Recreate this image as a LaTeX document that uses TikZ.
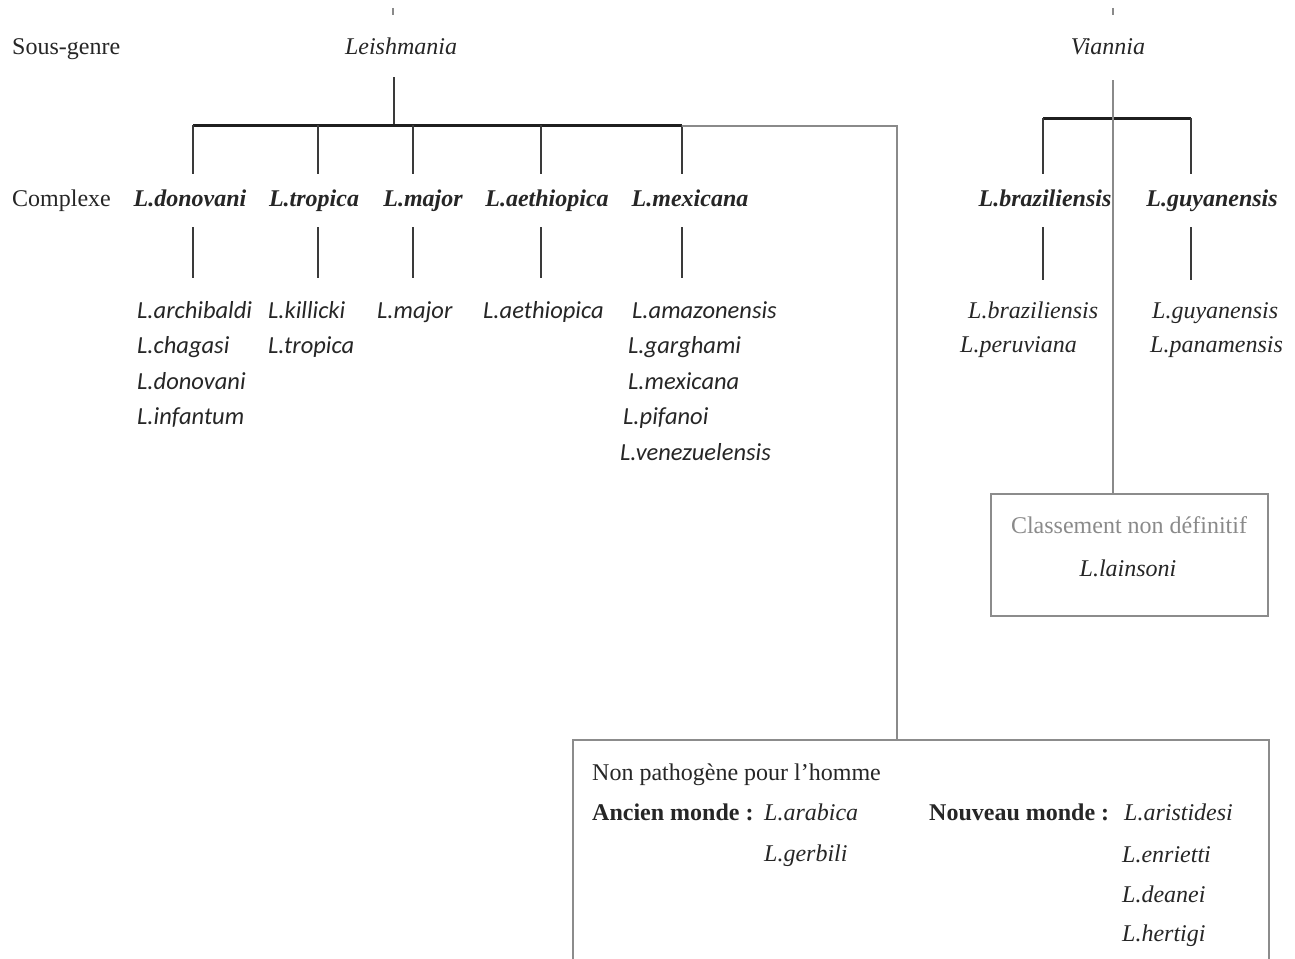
\documentclass[tikz,border=0pt]{standalone}
\usepackage{fontspec}
\setmainfont{Liberation Serif}
\newfontfamily\calfont{Carlito}
\newcommand\rmsz{\fontsize{24}{28}\selectfont}
\newcommand\calsz{\fontsize{24.5}{35.5}\selectfont}
\newcommand\vlsz{\fontsize{24}{34}\selectfont}
\definecolor{ink}{HTML}{262626}
\definecolor{barc}{HTML}{1F1F1F}
\definecolor{dropc}{HTML}{3A3A3A}
\definecolor{connc}{HTML}{8A8A8A}
\definecolor{boxc}{HTML}{8C8C8C}
\definecolor{greyt}{HTML}{8A8A8A}
\begin{document}
\begin{tikzpicture}[x=1pt,y=-1pt,
  lbl/.style={inner sep=0pt, anchor=base west, font=\rmsz, text=ink},
  sgn/.style={anchor=base, inner xsep=0pt, text height=17pt, text depth=6pt, font=\rmsz\itshape, text=ink},
  cx/.style={anchor=base, inner xsep=0pt, inner ysep=15pt, text height=17pt, text depth=6pt, font=\rmsz\bfseries\itshape, text=ink},
  lstc/.style={anchor=north west, inner xsep=0pt, inner ysep=21pt, align=left, font=\calsz\calfont\itshape, text=ink},
  lstt/.style={anchor=north west, inner xsep=0pt, inner ysep=20pt, align=left, font=\vlsz\itshape, text=ink},
  ital/.style={inner sep=0pt, anchor=base west, font=\rmsz\itshape, text=ink},
  bld/.style={inner sep=0pt, anchor=base west, font=\rmsz\bfseries, text=ink},
  bar/.style={draw=barc, line width=3pt},
  drop/.style={draw=dropc, line width=1.6pt},
  conn/.style={draw=connc, line width=1.6pt},
  box/.style={draw=boxc, line width=2pt, anchor=north west, inner sep=0pt}]
\useasboundingbox (0,0) rectangle (1295,958);
\fill[white] (0,0) rectangle (1295,958);

% marks at top
\coordinate (m1a) at (393,8); \coordinate (m1b) at (393,15);
\coordinate (m2a) at (1113,8); \coordinate (m2b) at (1113,15);
\draw[conn] (m1a) -- (m1b);
\draw[conn] (m2a) -- (m2b);

% row labels
\node[lbl] (sg) at (12,55) {Sous-genre};
\node[lbl] (cplx) at (12,206) {Complexe};

% sub-genera
\node[sgn, inner ysep=16pt] (leish) at (401,55) {Leishmania};
\node[sgn, inner ysep=19pt] (vian) at (1108,55) {Viannia};

% complexes
\node[cx] (don) at (190,206) {L.donovani};
\node[cx] (trop) at (314,206) {L.tropica};
\node[cx] (maj) at (423,206) {L.major};
\node[cx] (aeth) at (547,206) {L.aethiopica};
\node[cx] (mex) at (690,206) {L.mexicana};
\node[cx] (braz) at (1045,206) {L.braziliensis};
\node[cx] (guy) at (1212,206) {L.guyanensis};

% species lists
\node[lstc] (donL) at (137,278) {\rule{0pt}{19pt}L.archibaldi\\L.chagasi\\L.donovani\\L.infantum};
\node[lstc] (tropL) at (268,278) {\rule{0pt}{19pt}L.killicki\\L.tropica};
\node[lstc] (majL) at (377,278) {\rule{0pt}{19pt}L.major};
\node[lstc] (aethL) at (483,278) {\rule{0pt}{19pt}L.aethiopica};
\node[lstc] (mexL) at (620,278) {\rule{0pt}{19pt}\hspace*{12pt}L.amazonensis\\\hspace*{8pt}L.garghami\\\hspace*{8pt}L.mexicana\\\hspace*{3pt}L.pifanoi\\L.venezuelensis};
\node[lstt] (brazL) at (960,280) {\rule{0pt}{18pt}\hspace*{8pt}L.braziliensis\\L.peruviana};
\node[lstt] (guyL) at (1150,280) {\rule{0pt}{18pt}\hspace*{2pt}L.guyanensis\\L.panamensis};

% Leishmania tree
\coordinate (b0) at (394,125);
\coordinate (c1) at (193,125);
\coordinate (c2) at (318,125);
\coordinate (c3) at (413,125);
\coordinate (c4) at (541,125);
\coordinate (c5) at (682,125);
\coordinate (g0) at (682,126);
\coordinate (g1) at (897,126);
\draw[drop] (leish.south -| b0) -- (b0);
\draw[bar] (c1) -- (c5);
\draw[drop] (c1) -- (don.north -| c1);
\draw[drop] (c2) -- (trop.north -| c2);
\draw[drop] (c3) -- (maj.north -| c3);
\draw[drop] (c4) -- (aeth.north -| c4);
\draw[drop] (c5) -- (mex.north -| c5);
\draw[drop] (don.south -| c1) -- (donL.north -| c1);
\draw[drop] (trop.south -| c2) -- (tropL.north -| c2);
\draw[drop] (maj.south -| c3) -- (majL.north -| c3);
\draw[drop] (aeth.south -| c4) -- (aethL.north -| c4);
\draw[drop] (mex.south -| c5) -- (mexL.north -| c5);

% Viannia tree
\coordinate (vx) at (1113,80);
\coordinate (v1) at (1043,118);
\coordinate (v2) at (1191,118);
\draw[bar] (v1) -- (v2);
\draw[drop] (v1) -- (braz.north -| v1);
\draw[drop] (v2) -- (guy.north -| v2);
\draw[drop] (braz.south -| v1) -- (brazL.north -| v1);
\draw[drop] (guy.south -| v2) -- (guyL.north -| v2);

% Classement box
\node[box, minimum width=277pt, minimum height=122pt] (clbox) at (990,493) {};
\node[anchor=base, inner sep=0pt, font=\rmsz, text=greyt] (clt) at (1129,533) {Classement non définitif};
\node[anchor=base, inner sep=0pt, font=\rmsz\itshape, text=ink] (lain) at (1128,576) {L.lainsoni};
\draw[conn] (vian.south -| vx) -- (clbox.north -| vx);

% Non pathogene box
\node[box, minimum width=696pt, minimum height=290pt] (npbox) at (572,739) {};
\draw[conn] (g0) -- (g1) -- (npbox.north -| g1);
\node[lbl] (npt) at (592,780) {Non pathogène pour l’homme};
\node[bld] (am) at (592,820) {Ancien monde :};
\node[ital] (arab) at (764,820) {L.arabica};
\node[ital] (gerb) at (764,861) {L.gerbili};
\node[bld] (nm) at (929,820) {Nouveau monde :};
\node[ital] (aris) at (1124,820) {L.aristidesi};
\node[ital] (enri) at (1122,862) {L.enrietti};
\node[ital] (dean) at (1122,902) {L.deanei};
\node[ital] (hert) at (1122,941) {L.hertigi};
\end{tikzpicture}
\end{document}
